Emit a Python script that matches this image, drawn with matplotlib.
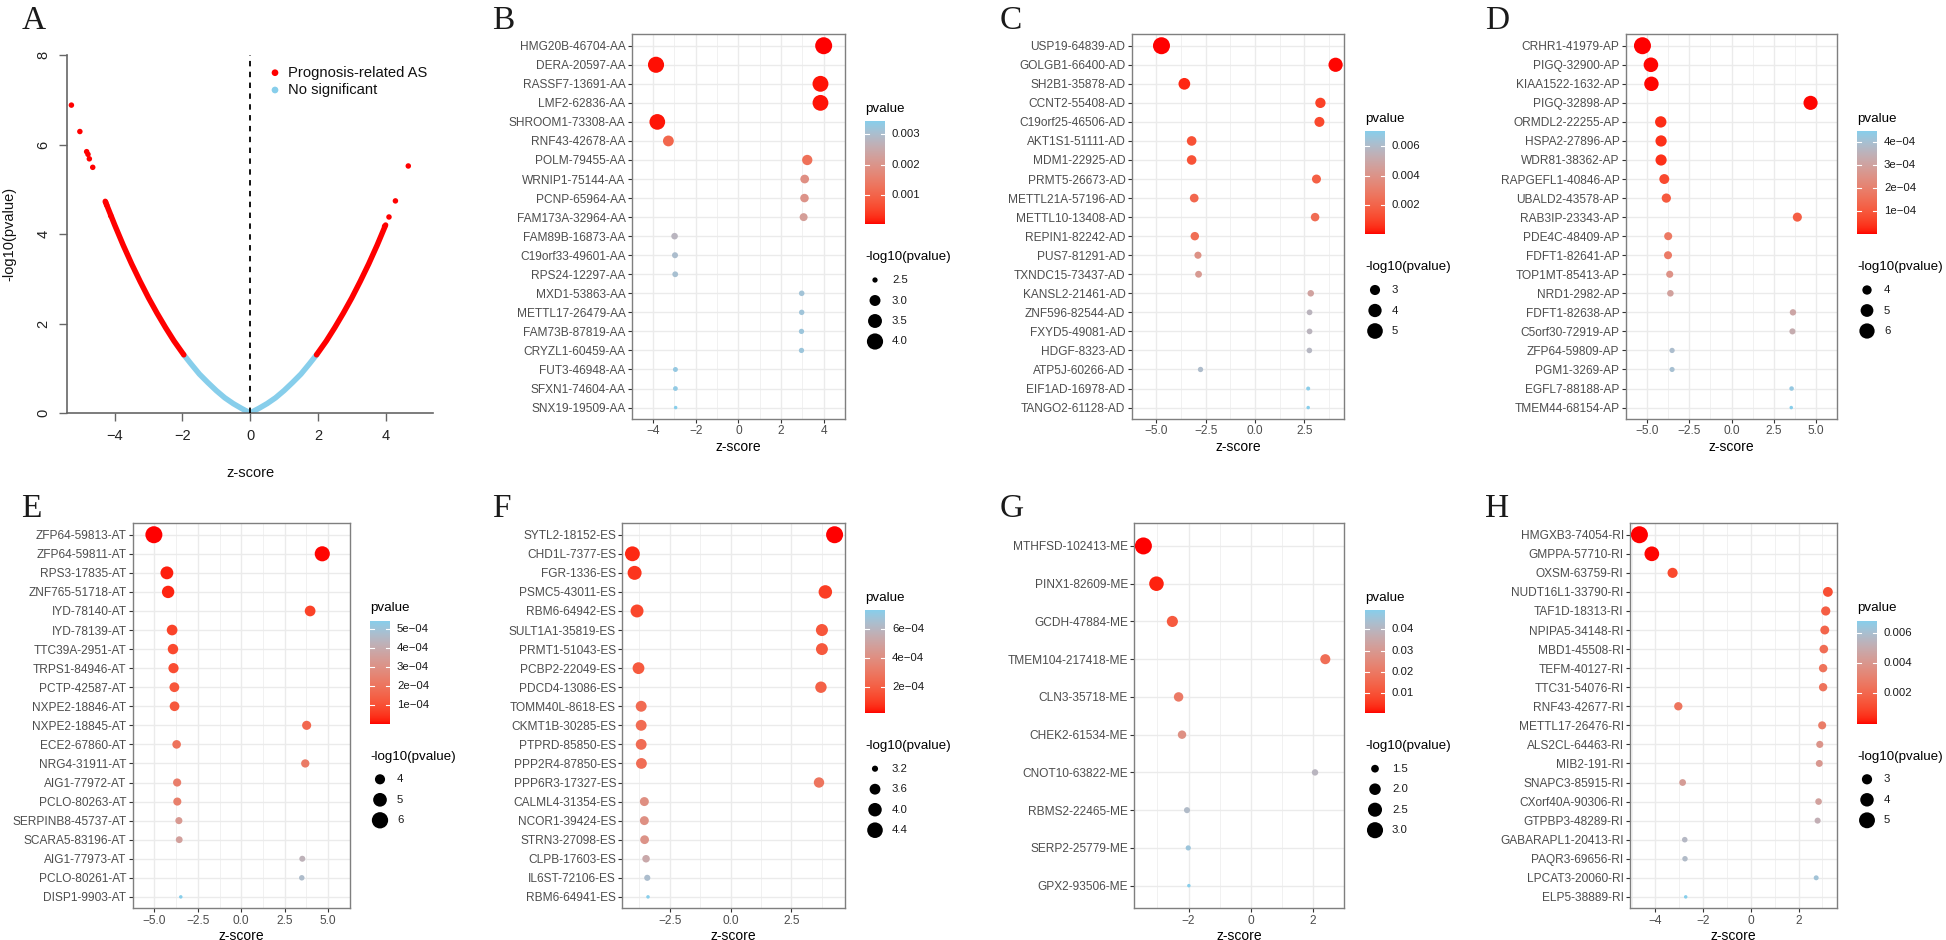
import numpy as np
import matplotlib
matplotlib.use("Agg")
import matplotlib.pyplot as plt
from matplotlib.colors import ListedColormap

plt.rcParams['font.family'] = ['Liberation Sans', 'DejaVu Sans']

W, H, DPI = 1946, 940, 100
PT = DPI / 72.0  # pixels per point

# ======================= DATA =======================
# Panel A: volcano plot (z-score vs -log10 pvalue)
volc_sig_left_z = [-4.28, -4.00, -3.75, -3.50, -3.25, -3.00, -2.75, -2.50, -2.25, -1.96]
volc_sig_left_y = [4.73, 4.20, 3.75, 3.33, 2.94, 2.57, 2.23, 1.91, 1.61, 1.30]
volc_sig_right_z = [1.96, 2.25, 2.50, 2.75, 3.00, 3.25, 3.50, 3.75, 4.00]
volc_sig_right_y = [1.30, 1.61, 1.91, 2.23, 2.57, 2.94, 3.33, 3.75, 4.20]
volc_ns_z = [-1.96, -1.75, -1.50, -1.25, -1.00, -0.75, -0.50, -0.25, 0.00,
             0.25, 0.50, 0.75, 1.00, 1.25, 1.50, 1.75, 1.96]
volc_ns_y = [1.30, 1.10, 0.87, 0.68, 0.50, 0.34, 0.21, 0.10, 0.00,
             0.10, 0.21, 0.34, 0.50, 0.68, 0.87, 1.10, 1.30]
volc_out_z = [-5.28, -5.03, -4.83, -4.79, -4.75, -4.65, -4.27, -4.24, -4.12, 3.97, 4.10, 4.29, 4.67]
volc_out_y = [6.88, 6.29, 5.84, 5.78, 5.68, 5.49, 4.71, 4.65, 4.41, 4.17, 4.38, 4.74, 5.52]

# Panel B: AA
B_labels = ["HMG20B-46704-AA", "DERA-20597-AA", "RASSF7-13691-AA", "LMF2-62836-AA", "SHROOM1-73308-AA",
            "RNF43-42678-AA", "POLM-79455-AA", "WRNIP1-75144-AA", "PCNP-65964-AA", "FAM173A-32964-AA",
            "FAM89B-16873-AA", "C19orf33-49601-AA", "RPS24-12297-AA", "MXD1-53863-AA", "METTL17-26479-AA",
            "FAM73B-87819-AA", "CRYZL1-60459-AA", "FUT3-46948-AA", "SFXN1-74604-AA", "SNX19-19509-AA"]
B_z = [4.00, -3.86, 3.85, 3.85, -3.80, -3.28, 3.23, 3.11, 3.10, 3.06,
       -2.99, -2.97, -2.96, 2.97, 2.97, 2.96, 2.96, -2.95, -2.95, -2.94]
B_logp = [4.20, 3.98, 3.93, 3.91, 3.88, 2.98, 2.91, 2.73, 2.71, 2.66,
          2.56, 2.53, 2.52, 2.51, 2.505, 2.50, 2.50, 2.49, 2.485, 2.47]

# Panel C: AD
C_labels = ["USP19-64839-AD", "GOLGB1-66400-AD", "SH2B1-35878-AD", "CCNT2-55408-AD", "C19orf25-46506-AD",
            "AKT1S1-51111-AD", "MDM1-22925-AD", "PRMT5-26673-AD", "METTL21A-57196-AD", "METTL10-13408-AD",
            "REPIN1-82242-AD", "PUS7-81291-AD", "TXNDC15-73437-AD", "KANSL2-21461-AD", "ZNF596-82544-AD",
            "FXYD5-49081-AD", "HDGF-8323-AD", "ATP5J-60266-AD", "EIF1AD-16978-AD", "TANGO2-61128-AD"]
C_z = [-4.74, 4.09, -3.58, 3.32, 3.27, -3.21, -3.21, 3.12, -3.08, 3.05,
       -3.05, -2.89, -2.86, 2.83, 2.77, 2.77, 2.76, -2.76, 2.70, 2.70]
C_logp = [5.67, 4.37, 3.46, 3.05, 2.97, 2.88, 2.87, 2.74, 2.68, 2.64,
          2.63, 2.41, 2.37, 2.33, 2.25, 2.25, 2.24, 2.22, 2.16, 2.155]

# Panel D: AP
D_labels = ["CRHR1-41979-AP", "PIGQ-32900-AP", "KIAA1522-1632-AP", "PIGQ-32898-AP", "ORMDL2-22255-AP",
            "HSPA2-27896-AP", "WDR81-38362-AP", "RAPGEFL1-40846-AP", "UBALD2-43578-AP", "RAB3IP-23343-AP",
            "PDE4C-48409-AP", "FDFT1-82641-AP", "TOP1MT-85413-AP", "NRD1-2982-AP", "FDFT1-82638-AP",
            "C5orf30-72919-AP", "ZFP64-59809-AP", "PGM1-3269-AP", "EGFL7-88188-AP", "TMEM44-68154-AP"]
D_z = [-5.26, -4.76, -4.73, 4.67, -4.18, -4.16, -4.16, -3.97, -3.85, 3.89,
       -3.74, -3.75, -3.65, -3.61, 3.63, 3.60, -3.51, -3.51, 3.55, 3.53]
D_logp = [6.84, 5.71, 5.65, 5.52, 4.54, 4.50, 4.48, 4.14, 3.98, 3.95,
          3.75, 3.74, 3.60, 3.53, 3.51, 3.48, 3.41, 3.40, 3.37, 3.35]

# Panel E: AT
E_labels = ["ZFP64-59813-AT", "ZFP64-59811-AT", "RPS3-17835-AT", "ZNF765-51718-AT", "IYD-78140-AT",
            "IYD-78139-AT", "TTC39A-2951-AT", "TRPS1-84946-AT", "PCTP-42587-AT", "NXPE2-18846-AT",
            "NXPE2-18845-AT", "ECE2-67860-AT", "NRG4-31911-AT", "AIG1-77972-AT", "PCLO-80263-AT",
            "SERPINB8-45737-AT", "SCARA5-83196-AT", "AIG1-77973-AT", "PCLO-80261-AT", "DISP1-9903-AT"]
E_z = [-5.03, 4.67, -4.28, -4.21, 3.97, -3.98, -3.93, -3.90, -3.85, -3.84,
       3.77, -3.72, 3.69, -3.69, -3.68, -3.59, -3.57, 3.52, 3.49, -3.48]
E_logp = [6.31, 5.52, 4.73, 4.59, 4.14, 4.13, 4.07, 4.02, 3.93, 3.91,
          3.79, 3.70, 3.65, 3.63, 3.62, 3.48, 3.45, 3.37, 3.33, 3.265]

# Panel F: ES
F_labels = ["SYTL2-18152-ES", "CHD1L-7377-ES", "FGR-1336-ES", "PSMC5-43011-ES", "RBM6-64942-ES",
            "SULT1A1-35819-ES", "PRMT1-51043-ES", "PCBP2-22049-ES", "PDCD4-13086-ES", "TOMM40L-8618-ES",
            "CKMT1B-30285-ES", "PTPRD-85850-ES", "PPP2R4-87850-ES", "PPP6R3-17327-ES", "CALML4-31354-ES",
            "NCOR1-39424-ES", "STRN3-27098-ES", "CLPB-17603-ES", "IL6ST-72106-ES", "RBM6-64941-ES"]
F_z = [4.27, -4.03, -3.94, 3.89, -3.84, 3.75, 3.75, -3.78, 3.71, -3.67,
       -3.67, -3.67, -3.66, 3.63, -3.54, -3.54, -3.53, -3.47, -3.42, -3.39]
F_logp = [4.71, 4.25, 4.09, 4.00, 3.91, 3.77, 3.75, 3.735, 3.68, 3.615,
          3.61, 3.605, 3.60, 3.55, 3.40, 3.395, 3.38, 3.28, 3.20, 3.14]

# Panel G: ME
G_labels = ["MTHFSD-102413-ME", "PINX1-82609-ME", "GCDH-47884-ME", "TMEM104-217418-ME", "CLN3-35718-ME",
            "CHEK2-61534-ME", "CNOT10-63822-ME", "RBMS2-22465-ME", "SERP2-25779-ME", "GPX2-93506-ME"]
G_z = [-3.45, -3.03, -2.52, 2.39, -2.32, -2.21, 2.06, -2.05, -2.01, -1.99]
G_logp = [3.25, 2.61, 1.93, 1.77, 1.69, 1.57, 1.40, 1.38, 1.34, 1.31]

# Panel H: RI
H_labels = ["HMGXB3-74054-RI", "GMPPA-57710-RI", "OXSM-63759-RI", "NUDT16L1-33790-RI", "TAF1D-18313-RI",
            "NPIPA5-34148-RI", "MBD1-45508-RI", "TEFM-40127-RI", "TTC31-54076-RI", "RNF43-42677-RI",
            "METTL17-26476-RI", "ALS2CL-64463-RI", "MIB2-191-RI", "SNAPC3-85915-RI", "CXorf40A-90306-RI",
            "GTPBP3-48289-RI", "GABARAPL1-20413-RI", "PAQR3-69656-RI", "LPCAT3-20060-RI", "ELP5-38889-RI"]
H_z = [-4.67, -4.15, -3.28, 3.23, 3.14, 3.10, 3.06, 3.03, 3.03, -3.04,
       2.99, 2.89, 2.87, -2.86, 2.84, 2.80, -2.77, -2.76, 2.74, -2.73]
H_logp = [5.52, 4.48, 2.98, 2.91, 2.77, 2.71, 2.65, 2.61, 2.605, 2.60,
          2.55, 2.41, 2.39, 2.37, 2.35, 2.29, 2.25, 2.24, 2.21, 2.17]

# ======================= STYLE HELPERS =======================
RED = (1.0, 0.0, 0.0)
SKY = (135 / 255, 206 / 255, 235 / 255)

_M = np.array([[0.4124, 0.3576, 0.1805], [0.2126, 0.7152, 0.0722], [0.0193, 0.1192, 0.9505]])
_WHITE = np.array([0.95047, 1.0, 1.08883])


def _to_lin(c):
    c = np.asarray(c, float)
    return np.where(c <= 0.04045, c / 12.92, ((c + 0.055) / 1.055) ** 2.4)


def _to_srgb(c):
    c = np.clip(c, 0, 1)
    return np.where(c <= 0.0031308, 12.92 * c, 1.055 * c ** (1 / 2.4) - 0.055)


def rgb_to_lab(rgb):
    xyz = _M @ _to_lin(rgb) / _WHITE
    d = 6 / 29
    f = np.where(xyz > d ** 3, np.cbrt(xyz), xyz / (3 * d * d) + 4 / 29)
    return np.array([116 * f[1] - 16, 500 * (f[0] - f[1]), 200 * (f[1] - f[2])])


def lab_to_rgb(lab):
    L, a, b = lab
    fy = (L + 16) / 116
    f = np.array([fy + a / 500, fy, fy - b / 200])
    d = 6 / 29
    xyz = np.where(f > d, f ** 3, 3 * d * d * (f - 4 / 29)) * _WHITE
    return _to_srgb(np.linalg.inv(_M) @ xyz)


_lo, _hi = rgb_to_lab(RED), rgb_to_lab(SKY)
cmap = ListedColormap(np.clip([lab_to_rgb(_lo + (_hi - _lo) * t) for t in np.linspace(0, 1, 256)], 0, 1))

DMIN, DMAX = 3.5, 17.0  # dot diameters in px


def diam_px(v, vmin, vmax):
    v = np.asarray(v, float)
    return DMIN + (DMAX - DMIN) * np.sqrt(np.clip((v - vmin) / (vmax - vmin), 0, 1))


fig = plt.figure(figsize=(W / DPI, H / DPI), dpi=DPI)
fig.patch.set_facecolor('white')


def px_rect(r):
    l, t, rr, b = r
    return [l / W, 1 - b / H, (rr - l) / W, (b - t) / H]


legend_jobs = []


def dot_panel(rect, labels, z, logp, xticks, xticklabels, cb_ticks, cb_labels, size_breaks, size_labels, T, L):
    z = np.asarray(z, float)
    logp = np.asarray(logp, float)
    n = len(labels)
    ax = fig.add_axes(px_rect(rect))
    y = np.arange(n)[::-1]
    p = 10.0 ** (-logp)
    pmin, pmax = p.min(), p.max()
    cols = cmap((p - pmin) / (pmax - pmin))
    vmin, vmax = logp.min(), logp.max()
    d = diam_px(logp, vmin, vmax)
    ax.scatter(z, y, s=(d / PT) ** 2, c=cols, edgecolors='none', zorder=3)
    rng = z.max() - z.min()
    ax.set_xlim(z.min() - 0.05 * rng, z.max() + 0.05 * rng)
    ax.set_ylim(-0.6, n - 0.4)
    ax.set_yticks(y)
    ax.set_yticklabels(labels)
    ax.set_xticks(xticks)
    ax.set_xticklabels(xticklabels)
    step = xticks[1] - xticks[0]
    ax.set_xticks(np.arange(xticks[0] - step / 2, xticks[-1] + step, step), minor=True)
    ax.grid(which='major', color='#EBEBEB', lw=1.0)
    ax.grid(which='minor', axis='x', color='#EBEBEB', lw=0.5)
    ax.set_axisbelow(True)
    ax.tick_params(which='major', length=3, width=0.8, color='#333333', labelsize=8.6,
                   labelcolor='#4D4D4D', pad=1.5)
    ax.tick_params(which='minor', length=0)
    for s in ax.spines.values():
        s.set_color('#7F7F7F')
        s.set_linewidth(1.0)
    ax.set_xlabel('z-score', fontsize=10, labelpad=2.0)
    legend_jobs.append((pmin, pmax, vmin, vmax, cb_ticks, cb_labels, size_breaks, size_labels, T, L))


# ======================= PANEL A =======================
axA = fig.add_axes(px_rect((67, 55, 433, 413)))
lw_band = 5.5 / PT
axA.plot(volc_ns_z, volc_ns_y, color=SKY, lw=lw_band, solid_capstyle='round', solid_joinstyle='round', zorder=2)
axA.plot(volc_sig_left_z, volc_sig_left_y, color=RED, lw=lw_band, solid_capstyle='round',
         solid_joinstyle='round', zorder=3)
axA.plot(volc_sig_right_z, volc_sig_right_y, color=RED, lw=lw_band, solid_capstyle='round',
         solid_joinstyle='round', zorder=3)
axA.scatter(volc_out_z, volc_out_y, s=(5.5 / PT) ** 2, c=[RED], edgecolors='none', zorder=4)
axA.axvline(0, color='black', ls=(0, (3, 3)), lw=1.3, zorder=5)
axA.set_xlim(-5.41, 5.40)
axA.set_ylim(0, 8)
for sp in ['top', 'right']:
    axA.spines[sp].set_visible(False)
for sp in ['left', 'bottom']:
    axA.spines[sp].set_color('#666666')
    axA.spines[sp].set_linewidth(1.2)
axA.set_xticks([-4, -2, 0, 2, 4])
axA.set_xticklabels(['\u22124', '\u22122', '0', '2', '4'])
axA.set_yticks([0, 2, 4, 6, 8])
axA.set_yticklabels(['0', '2', '4', '6', '8'], rotation=90, va='center')
axA.tick_params(length=8 / PT, width=1.0, color='#666666', labelsize=10.5, labelcolor='#222222', pad=6)

# ======================= PANELS B-H =======================
dot_panel((631.7, 34.3, 845, 419), B_labels, B_z, B_logp,
          [-4, -2, 0, 2, 4], ['\u22124', '\u22122', '0', '2', '4'],
          [0.001, 0.002, 0.003], ['0.001', '0.002', '0.003'],
          [2.5, 3.0, 3.5, 4.0], ['2.5', '3.0', '3.5', '4.0'], 109, 865)
dot_panel((1131.7, 34.3, 1344.3, 419), C_labels, C_z, C_logp,
          [-5.0, -2.5, 0.0, 2.5], ['\u22125.0', '\u22122.5', '0.0', '2.5'],
          [0.002, 0.004, 0.006], ['0.002', '0.004', '0.006'],
          [3, 4, 5], ['3', '4', '5'], 119, 1365)
dot_panel((1625.7, 34.3, 1837.3, 419), D_labels, D_z, D_logp,
          [-5.0, -2.5, 0.0, 2.5, 5.0], ['\u22125.0', '\u22122.5', '0.0', '2.5', '5.0'],
          [1e-4, 2e-4, 3e-4, 4e-4], ['1e\u221204', '2e\u221204', '3e\u221204', '4e\u221204'],
          [4, 5, 6], ['4', '5', '6'], 119, 1857)
dot_panel((132.7, 523.3, 349.7, 908.3), E_labels, E_z, E_logp,
          [-5.0, -2.5, 0.0, 2.5, 5.0], ['\u22125.0', '\u22122.5', '0.0', '2.5', '5.0'],
          [1e-4, 2e-4, 3e-4, 4e-4, 5e-4], ['1e\u221204', '2e\u221204', '3e\u221204', '4e\u221204', '5e\u221204'],
          [4, 5, 6], ['4', '5', '6'], 608.3, 370)
dot_panel((622.3, 523.3, 844.7, 908.3), F_labels, F_z, F_logp,
          [-2.5, 0.0, 2.5], ['\u22122.5', '0.0', '2.5'],
          [2e-4, 4e-4, 6e-4], ['2e\u221204', '4e\u221204', '6e\u221204'],
          [3.2, 3.6, 4.0, 4.4], ['3.2', '3.6', '4.0', '4.4'], 597.7, 865)
dot_panel((1134.3, 523.3, 1344.3, 908.3), G_labels, G_z, G_logp,
          [-2, 0, 2], ['\u22122', '0', '2'],
          [0.01, 0.02, 0.03, 0.04], ['0.01', '0.02', '0.03', '0.04'],
          [1.5, 2.0, 2.5, 3.0], ['1.5', '2.0', '2.5', '3.0'], 597.7, 1365)
dot_panel((1630, 523.3, 1837.3, 908.3), H_labels, H_z, H_logp,
          [-4, -2, 0, 2], ['\u22124', '\u22122', '0', '2'],
          [0.002, 0.004, 0.006], ['0.002', '0.004', '0.006'],
          [3, 4, 5], ['3', '4', '5'], 608.3, 1857)

# ======================= OVERLAY (legends, letters, labels) =======================
ov = fig.add_axes([0, 0, 1, 1])
ov.axis('off')

for (pmin, pmax, vmin, vmax, cb_ticks, cb_labels, size_breaks, size_labels, T, L) in legend_jobs:
    ov.text(L, T, 'pvalue', fontsize=9.6, va='center', ha='left', color='black')
    cb_top, cb_bot, cb_l, cb_r = T + 12.7, T + 115.3, L, L + 20
    grad = np.linspace(pmax, pmin, 256)
    img = cmap((grad - pmin) / (pmax - pmin))[:, None, :]
    ov.imshow(img, extent=(cb_l, cb_r, cb_bot, cb_top), aspect='auto', interpolation='bilinear', zorder=2)
    for t, lab in zip(cb_ticks, cb_labels):
        yy = cb_bot - (t - pmin) / (pmax - pmin) * (cb_bot - cb_top)
        ov.plot([cb_l, cb_l + 4], [yy, yy], color='white', lw=0.8, zorder=3)
        ov.plot([cb_r - 4, cb_r], [yy, yy], color='white', lw=0.8, zorder=3)
        ov.text(L + 27, yy, lab, fontsize=8.2, va='center', ha='left', color='#1A1A1A')
    ov.text(L, T + 148.3, '-log10(pvalue)', fontsize=9.6, va='center', ha='left', color='black')
    for i, (b, lab) in enumerate(zip(size_breaks, size_labels)):
        ky = T + 171 + 20.5 * i
        d = float(diam_px(b, vmin, vmax))
        ov.scatter([L + 10], [ky], s=(d / PT) ** 2, c='black', edgecolors='none', zorder=3)
        ov.text(L + 27, ky, lab, fontsize=8.2, va='center', ha='left', color='#1A1A1A')

# Panel A legend and axis labels
ov.scatter([275], [72.7], s=(6.7 / PT) ** 2, c=[RED], edgecolors='none')
ov.text(288, 72.7, 'Prognosis-related AS', fontsize=10.6, va='center', ha='left', color='#111111')
ov.scatter([275], [90], s=(6.7 / PT) ** 2, c=[SKY], edgecolors='none')
ov.text(288, 90, 'No significant', fontsize=10.6, va='center', ha='left', color='#111111')
ov.text(9, 234, '-log10(pvalue)', fontsize=10.5, rotation=90, va='center', ha='center', color='#111111')
ov.text(250, 473, 'z-score', fontsize=10.5, va='center', ha='center', color='#111111')

# Panel letters
letters = [('A', 21.7, 29.3), ('B', 491.7, 29.3), ('C', 1000, 29.3), ('D', 1485, 29.3),
           ('E', 20.7, 517.3), ('F', 491.7, 517.3), ('G', 1000, 517.3), ('H', 1485, 517.3)]
for s, x, yb in letters:
    ov.text(x, yb, s, fontsize=24, family=['Liberation Serif', 'DejaVu Serif'],
            va='baseline', ha='left', color='#1A1A1A')

ov.set_xlim(0, W)
ov.set_ylim(H, 0)

fig.savefig('out.png', dpi=DPI)
